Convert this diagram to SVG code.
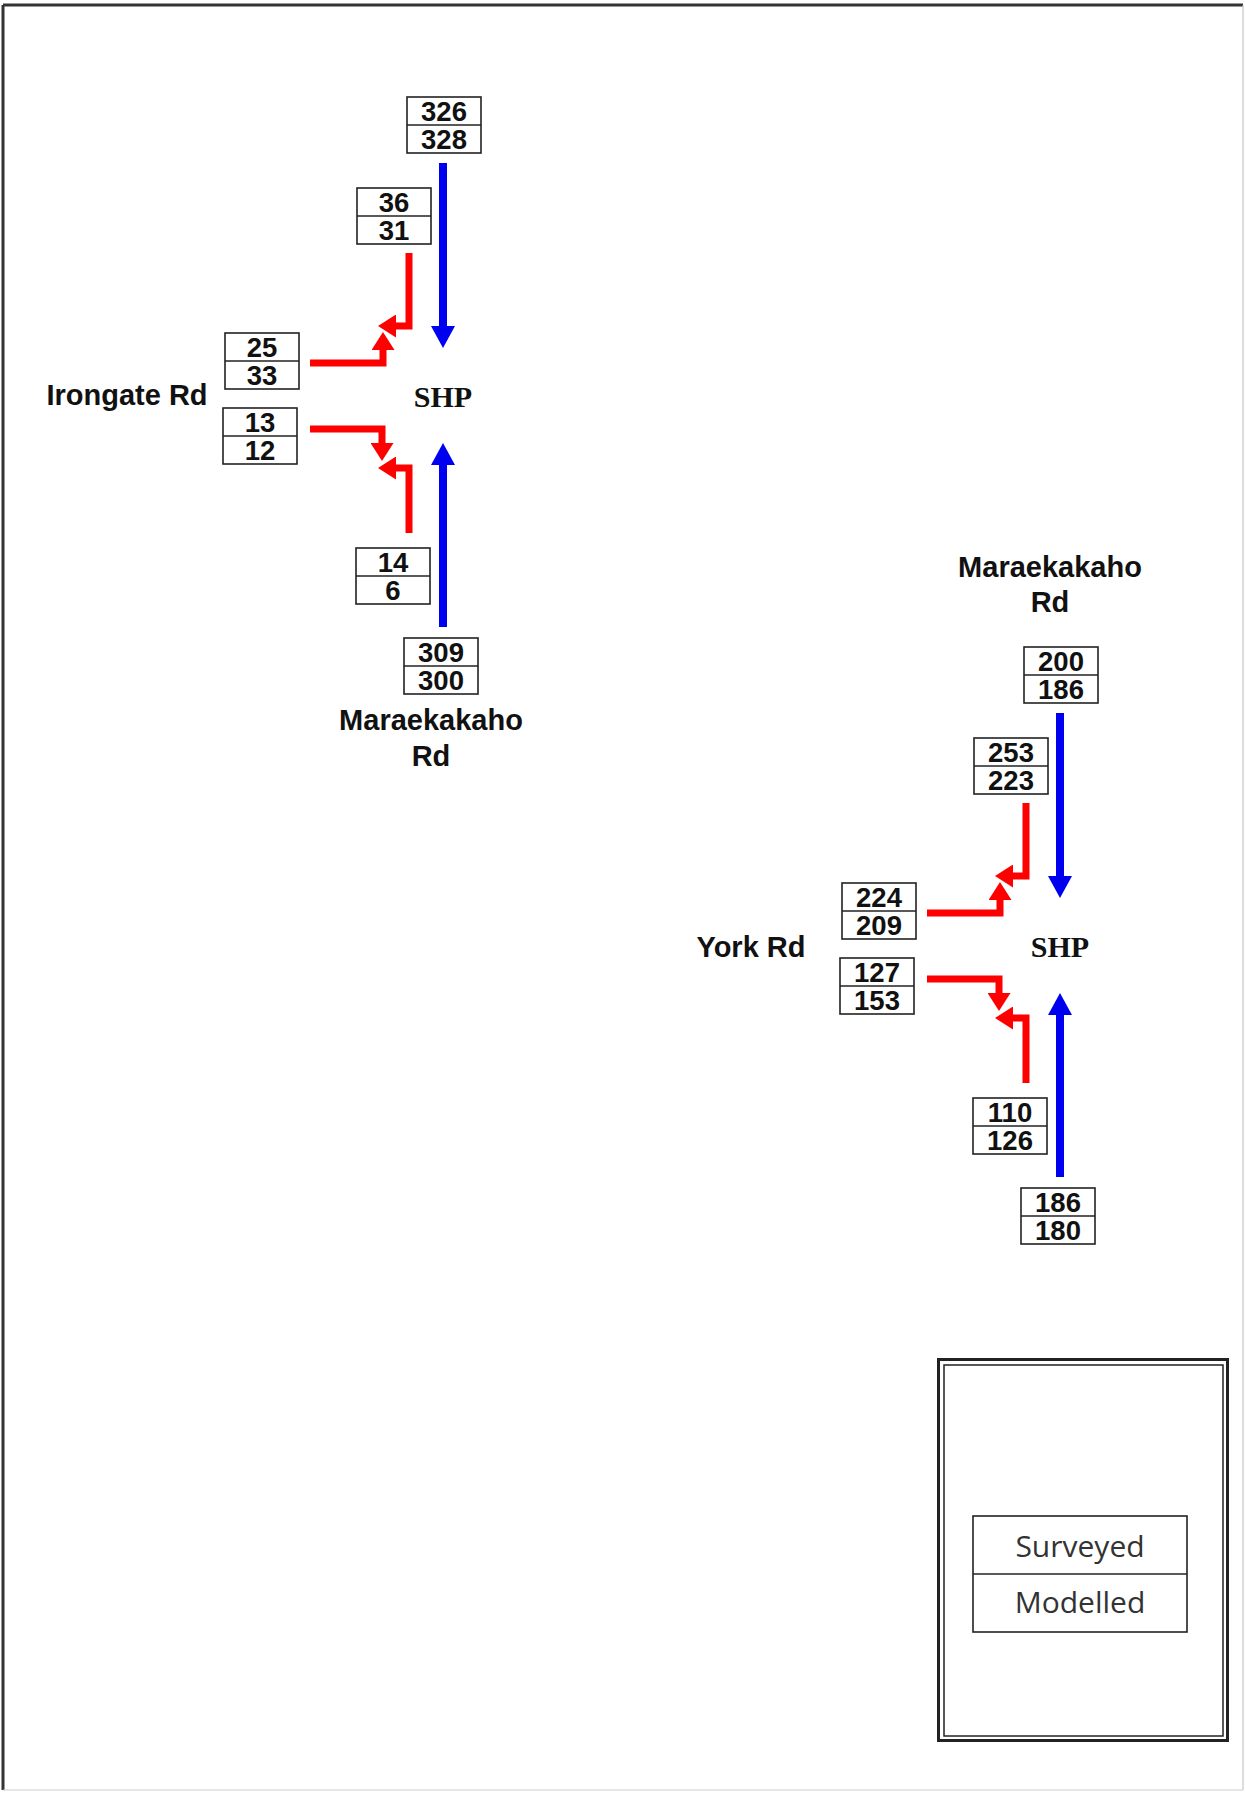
<svg xmlns="http://www.w3.org/2000/svg" width="1245" height="1796" viewBox="0 0 1245 1796">
<style>
.bx{fill:#fff;stroke:#222;stroke-width:1.6}
.dv{stroke:#222;stroke-width:1.6}
.num{font-family:"Liberation Sans",Arial,sans-serif;font-weight:bold;font-size:27.5px;fill:#111;text-anchor:middle}
.lbl{font-family:"Liberation Sans",Arial,sans-serif;font-weight:bold;font-size:29px;fill:#111;text-anchor:middle}
.shp{font-family:"Liberation Serif","Times New Roman",serif;font-weight:bold;font-size:30px;fill:#111;text-anchor:middle}
.red{fill:none;stroke:#f00;stroke-width:7;stroke-linejoin:miter;marker-end:url(#hr)}
.blue{fill:none;stroke:#0000f0;stroke-width:8;marker-end:url(#hb)}
.leg{font-family:"Open Sans","DejaVu Sans",sans-serif;font-size:30px;fill:#333;text-anchor:middle}
</style>
<defs>
<marker id="hr" markerUnits="userSpaceOnUse" markerWidth="18" markerHeight="23" viewBox="0 0 18 23" refX="1" refY="11.5" orient="auto"><path d="M0,0 L18,11.5 L0,23 z" fill="#f00"/></marker>
<marker id="hb" markerUnits="userSpaceOnUse" markerWidth="22" markerHeight="24" viewBox="0 0 22 24" refX="1" refY="12" orient="auto"><path d="M0,0 L22,12 L0,24 z" fill="#0000f0"/></marker>
</defs>
<rect x="0" y="0" width="1245" height="1796" fill="#fff"/>
<g id="page-border">
<line x1="3" y1="5" x2="1243" y2="5" stroke="#333" stroke-width="3"/>
<line x1="3" y1="5" x2="3" y2="1790" stroke="#333" stroke-width="3"/>
<line x1="1243" y1="5" x2="1243" y2="1790" stroke="#bbb" stroke-width="1"/>
<line x1="3" y1="1790" x2="1243" y2="1790" stroke="#ccc" stroke-width="1"/>
</g>
<g id="connectors">
<path class="blue" d="M443,163 V327"/>
<path class="blue" d="M443,627 V464"/>
<path class="red" d="M409,253 V326 H395"/>
<path class="red" d="M310,363 H383 V349"/>
<path class="red" d="M310,429 H382 V444"/>
<path class="red" d="M409,533 V468 H395"/>
<path class="blue" d="M1060,713 V877"/>
<path class="blue" d="M1060,1177 V1014"/>
<path class="red" d="M1026,803 V876 H1012"/>
<path class="red" d="M927,913 H1000 V899"/>
<path class="red" d="M927,979 H999 V994"/>
<path class="red" d="M1026,1083 V1018 H1012"/>
</g>
<g id="shp-1"><text class="shp" x="443" y="407">SHP</text></g>
<g id="irongate-rd"><text class="lbl" x="127" y="405">Irongate Rd</text></g>
<g id="maraekakaho-rd-1"><text class="lbl" x="431" y="730">Maraekakaho</text><text class="lbl" x="431" y="766">Rd</text></g>
<g id="box-326"><rect class="bx" x="407" y="97" width="74" height="56"/><line class="dv" x1="407" y1="125" x2="481" y2="125"/><text class="num" x="444" y="121">326</text><text class="num" x="444" y="149">328</text></g>
<g id="box-36"><rect class="bx" x="357" y="188" width="74" height="56"/><line class="dv" x1="357" y1="216" x2="431" y2="216"/><text class="num" x="394" y="212">36</text><text class="num" x="394" y="240">31</text></g>
<g id="box-25"><rect class="bx" x="225" y="333" width="74" height="56"/><line class="dv" x1="225" y1="361" x2="299" y2="361"/><text class="num" x="262" y="357">25</text><text class="num" x="262" y="385">33</text></g>
<g id="box-13"><rect class="bx" x="223" y="408" width="74" height="56"/><line class="dv" x1="223" y1="436" x2="297" y2="436"/><text class="num" x="260" y="432">13</text><text class="num" x="260" y="460">12</text></g>
<g id="box-14"><rect class="bx" x="356" y="548" width="74" height="56"/><line class="dv" x1="356" y1="576" x2="430" y2="576"/><text class="num" x="393" y="572">14</text><text class="num" x="393" y="600">6</text></g>
<g id="box-309"><rect class="bx" x="404" y="638" width="74" height="56"/><line class="dv" x1="404" y1="666" x2="478" y2="666"/><text class="num" x="441" y="662">309</text><text class="num" x="441" y="690">300</text></g>
<g id="shp-2"><text class="shp" x="1060" y="957">SHP</text></g>
<g id="york-rd"><text class="lbl" x="751" y="957">York Rd</text></g>
<g id="maraekakaho-rd-2"><text class="lbl" x="1050" y="577">Maraekakaho</text><text class="lbl" x="1050" y="612">Rd</text></g>
<g id="box-200"><rect class="bx" x="1024" y="647" width="74" height="56"/><line class="dv" x1="1024" y1="675" x2="1098" y2="675"/><text class="num" x="1061" y="671">200</text><text class="num" x="1061" y="699">186</text></g>
<g id="box-253"><rect class="bx" x="974" y="738" width="74" height="56"/><line class="dv" x1="974" y1="766" x2="1048" y2="766"/><text class="num" x="1011" y="762">253</text><text class="num" x="1011" y="790">223</text></g>
<g id="box-224"><rect class="bx" x="842" y="883" width="74" height="56"/><line class="dv" x1="842" y1="911" x2="916" y2="911"/><text class="num" x="879" y="907">224</text><text class="num" x="879" y="935">209</text></g>
<g id="box-127"><rect class="bx" x="840" y="958" width="74" height="56"/><line class="dv" x1="840" y1="986" x2="914" y2="986"/><text class="num" x="877" y="982">127</text><text class="num" x="877" y="1010">153</text></g>
<g id="box-110"><rect class="bx" x="973" y="1098" width="74" height="56"/><line class="dv" x1="973" y1="1126" x2="1047" y2="1126"/><text class="num" x="1010" y="1122">110</text><text class="num" x="1010" y="1150">126</text></g>
<g id="box-186"><rect class="bx" x="1021" y="1188" width="74" height="56"/><line class="dv" x1="1021" y1="1216" x2="1095" y2="1216"/><text class="num" x="1058" y="1212">186</text><text class="num" x="1058" y="1240">180</text></g>
<g id="legend">
<rect x="938.5" y="1359.5" width="289" height="381" fill="none" stroke="#222" stroke-width="3"/>
<rect x="944" y="1365" width="279" height="371" fill="none" stroke="#222" stroke-width="1.5"/>
<rect x="973" y="1516" width="214" height="116" fill="#fff" stroke="#222" stroke-width="1.6"/>
<line x1="973" y1="1574" x2="1187" y2="1574" stroke="#222" stroke-width="1.6"/>
<text class="leg" x="1080" y="1557">Surveyed</text>
<text class="leg" x="1080" y="1613">Modelled</text>
</g>
</svg>
